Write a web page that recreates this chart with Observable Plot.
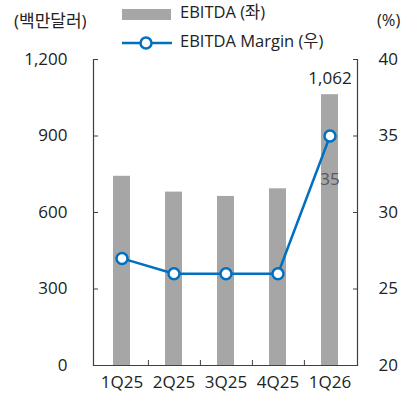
<!DOCTYPE html>
<html>
<head>
<meta charset="utf-8">
<script src="https://cdn.jsdelivr.net/npm/d3@7"></script>
<script src="https://cdn.jsdelivr.net/npm/@observablehq/plot@0.6"></script>
<style>
  body { margin: 0; background: #fff; }
  #wrap { width: 419px; font-family: "Open Sans", "Noto Sans CJK KR", sans-serif; color: #222; }
  #head { position: relative; height: 30px; font-size: 16.5px; z-index: 2; }
  #head span { position: absolute; white-space: nowrap; line-height: 1; }
  #head svg { position: absolute; left: 0; top: 0; }
  #chart { position: relative; z-index: 1; }
</style>
</head>
<body>
<div id="wrap">
  <div id="head">
    <svg width="419" height="50">
      <rect x="122" y="9" width="49" height="11" fill="#a6a6a6"></rect>
      <line x1="122" x2="172" y1="43" y2="43" stroke="#0070c0" stroke-width="2.5"></line>
      <circle cx="146" cy="43" r="5.5" fill="#fff" stroke="#0070c0" stroke-width="2.5"></circle>
    </svg>
    <span id="unitL" style="left:14px;top:12px;font-size:17px;">(백만달러)</span>
    <span id="leg1" style="left:180px;top:4px;">EBITDA (좌)</span>
    <span id="leg2" style="left:180px;top:33px;">EBITDA Margin (우)</span>
    <span id="unitR" style="left:377px;top:12px;">(%)</span>
  </div>
  <div id="chart"></div>
</div>
<script>
const quarters = ["1Q25", "2Q25", "3Q25", "4Q25", "1Q26"];
const ebitda = [742, 680, 663, 693, 1062];
const margin = [27, 26, 26, 26, 35];
const leftTicks = [0, 300, 600, 900, 1200];
const rightTicks = [20, 25, 30, 35, 40];
const labelBar = ["1,062"];
const labelMargin = ["35"];

// right axis (20–40%) mapped onto left scale (0–1200)
const toLeft = m => (m - 20) * 60;
const toRight = v => v / 60 + 20;

const data = quarters.map((q, i) => ({ q, ebitda: ebitda[i], margin: margin[i], mLeft: toLeft(margin[i]) }));
const last = data[data.length - 1];

const W = 419, H = 382, ML = 93, MR = 62, MT = 29, MB = 47;
const halfStep = (W - ML - MR) / quarters.length / 2;
const axisColor = "#404040";

const chart = Plot.plot({
  width: W,
  height: H,
  marginLeft: ML,
  marginRight: MR,
  marginTop: MT,
  marginBottom: MB,
  style: { fontSize: "17px", fontFamily: "'Open Sans', 'Noto Sans CJK KR', sans-serif", color: "#222", background: "transparent" },
  x: { type: "band", domain: quarters, paddingInner: 0.68, paddingOuter: 0.34, align: 0.5 },
  y: { domain: [0, 1200] },
  marks: [
    Plot.barY(data, { x: "q", y: "ebitda", fill: "#a6a6a6" }),
    // axis lines
    Plot.frame({ anchor: "left", stroke: axisColor, strokeWidth: 1.2 }),
    Plot.frame({ anchor: "right", stroke: axisColor, strokeWidth: 1.2 }),
    Plot.frame({ anchor: "bottom", stroke: axisColor, strokeWidth: 1.2 }),
    // left axis: inward ticks + labels
    Plot.axisY({ anchor: "left", ticks: leftTicks, tickSize: -5, text: null, stroke: axisColor, label: null }),
    Plot.axisY({ anchor: "left", ticks: leftTicks, tickSize: 0, tickPadding: 26, tickFormat: d3.format(","), label: null, fill: "#222" }),
    // right axis
    Plot.axisY({ anchor: "right", ticks: rightTicks.map(toLeft), tickSize: -5, text: null, stroke: axisColor, label: null }),
    Plot.axisY({ anchor: "right", ticks: rightTicks.map(toLeft), tickSize: 0, tickPadding: 21, tickFormat: d => String(toRight(d)), label: null, fill: "#222" }),
    // bottom axis: category boundary ticks + labels
    Plot.axisX({ anchor: "bottom", ticks: quarters.slice(0, -1), tickSize: -5, text: null, dx: halfStep, stroke: axisColor, label: null }),
    Plot.axisX({ anchor: "bottom", tickSize: 0, tickPadding: 10, label: null, fill: "#222" }),
    // line
    Plot.line(data, { x: "q", y: "mLeft", stroke: "#0070c0", strokeWidth: 2.5 }),
    Plot.dot(data, { x: "q", y: "mLeft", r: 5.5, fill: "#fff", stroke: "#0070c0", strokeWidth: 2.5 }),
    // labels
    Plot.text([last], { x: "q", y: "ebitda", text: () => labelBar[0], dy: -16, fill: "#222" }),
    Plot.text([last], { x: "q", y: "mLeft", text: () => labelMargin[0], dy: 44, fill: "#595959" })
  ]
});
document.getElementById("chart").appendChild(chart);
</script>
</body>
</html>
